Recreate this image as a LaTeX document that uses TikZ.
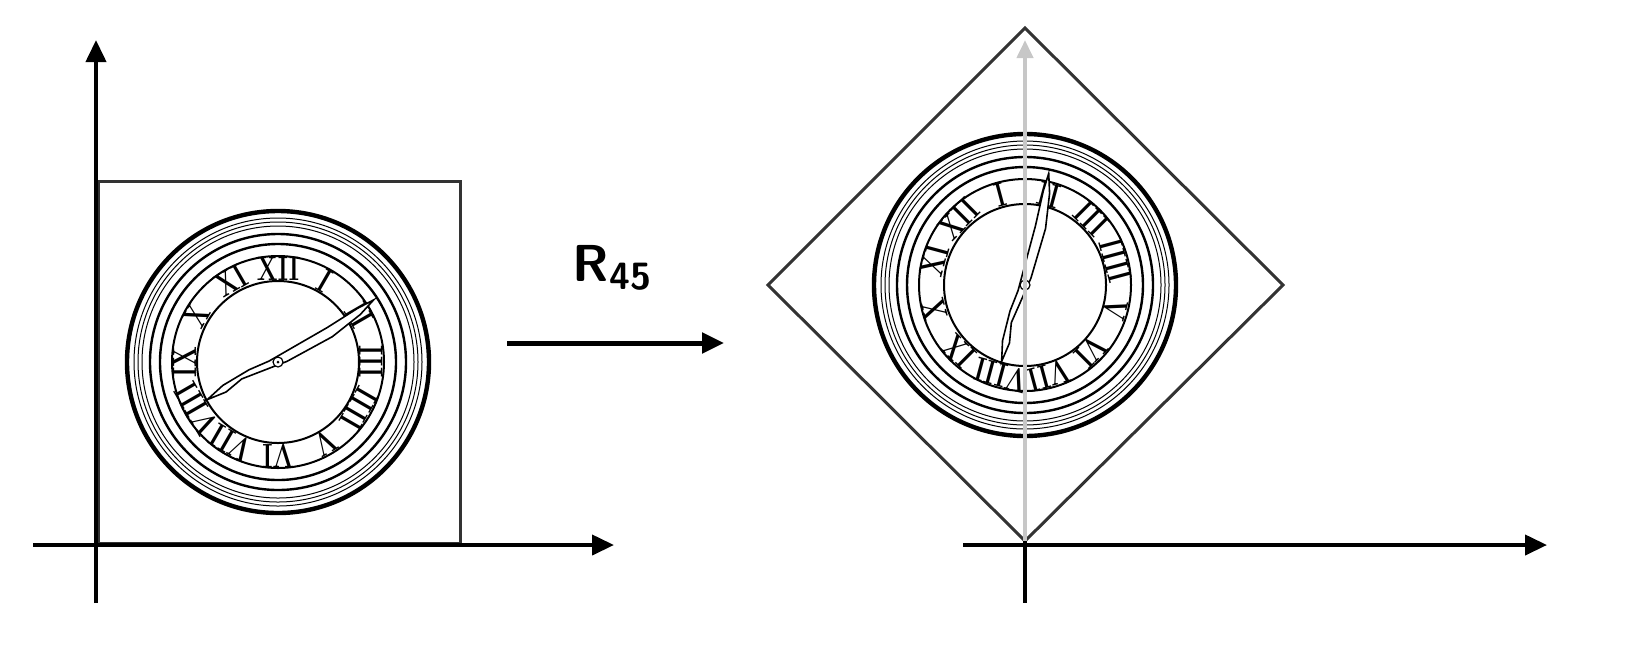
\documentclass[tikz,border=0pt]{standalone}
\usetikzlibrary{arrows.meta}
\begin{document}
\begin{tikzpicture}[x=0.5pt,y=0.5pt,
  axis/.style={line width=2pt,-{Triangle[length=11pt,width=10pt]}},
  frame/.style={line width=1.5pt,draw=black!80},
  clock/.pic={
    \fill[white] (0,0) circle (155);
    \draw[line width=2.2pt] (0,0) circle (151);
    \draw[line width=0.5pt] (0,0) circle (144);
    \draw[line width=0.5pt] (0,0) circle (140);
    \draw[line width=0.5pt] (0,0) circle (136);
    \draw[line width=1.2pt] (0,0) circle (128);
    \draw[line width=1.2pt] (0,0) circle (118);
    \draw[line width=1pt] (0,0) circle (106);
    \draw[line width=1pt] (0,0) circle (81);
    \foreach \n [count=\k] in {I,II,III,IIII,V,VI,VII,VIII,IX,X,XI,XII}{
      \pgfmathsetmacro\ang{90-30*\k}
      \node[transform shape,rotate=\ang-90,xscale=0.72,inner sep=0pt,font=\bfseries\fontsize{17}{17}\selectfont] (num\k) at (\ang:93.5) {\n};
    }
    \draw[line width=0.8pt,fill=white] (33:114) -- (30:95) -- (25:60) -- (4:9) -- (-155:40) -- (-150:60) -- (-152:80) -- (-157:60) -- (-165:30) -- (174:9) -- (35:60) -- (34:96) -- cycle;
    \draw[line width=0.6pt,fill=white] (0,0) circle (5);
    \fill (0,0) circle (1.5);
  }]
\useasboundingbox (0,0) rectangle (1647,-666);
\begin{pgfinterruptboundingbox}
% left
\draw[frame] (98,-543) rectangle (460,-181);
\pic at (278,-362) {clock};
\coordinate (ly0) at (96,-603); \coordinate (ly1) at (96,-40);
\coordinate (lx0) at (33,-545); \coordinate (lx1) at (614,-545);
\draw[axis] (ly0) -- (ly1);
\draw[axis] (lx0) -- (lx1);
% middle
\coordinate (m0) at (507,-343); \coordinate (m1) at (724,-343);
\draw[axis,line width=2.5pt] (m0) -- (m1);
\node[font=\sffamily\bfseries\fontsize{26}{26}\selectfont] (lab) at (612,-268) {R\raisebox{-0.35ex}{\fontsize{19}{19}\selectfont 45}};
% right
\draw[frame] (1025,-28) -- (1283,-285) -- (1025,-541) -- (768,-285) -- cycle;
\pic[rotate=45] at (1025,-285) {clock};
\coordinate (ry0) at (1025,-541); \coordinate (ry1) at (1025,-40);
\coordinate (ry2) at (1025,-603);
\draw[axis,draw=black!22,fill=black!22,-{Triangle[length=9pt,width=8pt]}] (ry0) -- (ry1);
\draw[line width=2pt] (ry0) -- (ry2);
\coordinate (rx0) at (963,-545); \coordinate (rx1) at (1547,-545);
\draw[axis] (rx0) -- (rx1);
\end{pgfinterruptboundingbox}
\end{tikzpicture}
\end{document}
